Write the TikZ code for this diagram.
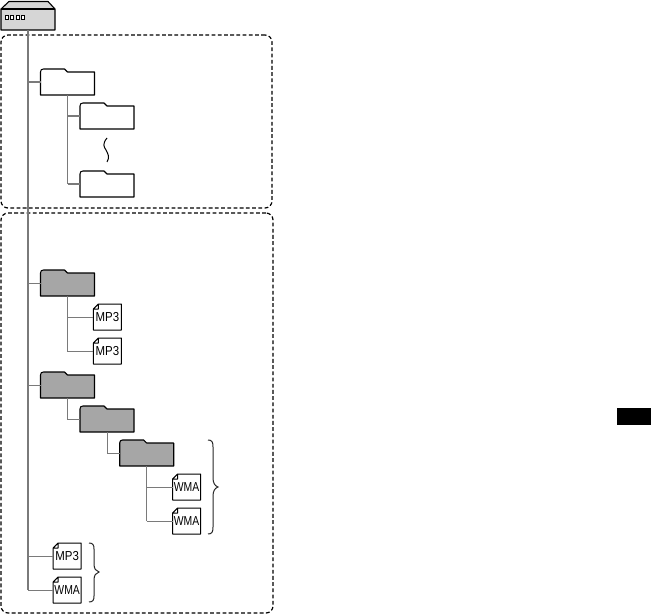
\documentclass[tikz,border=0pt]{standalone}
\usepackage{fontspec}
\usepackage{graphicx}
\setmainfont{Liberation Sans}
\definecolor{fgrey}{gray}{0.65}
\definecolor{devgrey}{gray}{0.84}
\definecolor{linegrey}{gray}{0.48}
\tikzset{
  x=1pt,y=-1pt,
  slot/.style={inner sep=0pt,outer sep=0pt,minimum width=#1,minimum height=26pt},
  outline/.style={draw=black,line width=1.1pt,line join=round},
  zone/.style={draw=black,line width=1.2pt,dash pattern=on 3.8pt off 2.4pt,rounded corners=7pt,inner sep=0pt,outer sep=0pt},
  trunk/.style={draw=linegrey,line width=1.8pt},
  twig/.style={draw=linegrey,line width=1pt},
  stem/.style={draw=linegrey,line width=1.5pt},
  bracer/.style={draw=black!85,line width=1pt},
}
\newcommand{\folderat}[4]{%
  \node[slot=54pt] (#1) at (#2,#3) {};
  \draw[outline,fill=#4,shift={(#2,#3)}]
    (-27,13) -- (-27,-10) .. controls (-27,-12) and (-26,-13) .. (-24,-13)
    -- (-3,-13) .. controls (-1.5,-13) and (-1.5,-10) .. (0,-10) -- (27,-10) -- (27,13) -- cycle;
}
\newcommand{\docat}[5]{%
  \node[slot=28pt] (#1) at (#2,#3) {};
  \draw[outline,line width=1pt,fill=white,shift={(#2,#3)}]
    (-14,13) -- (-14,-8) -- (-9,-13) -- (14,-13) -- (14,13) -- cycle
    (-14,-8) -- (-9,-8) -- (-9,-13);
  \node[inner sep=0pt] at (#2,#3+0.5) {\scalebox{#5}[1]{\fontsize{13}{13}\selectfont #4}};
}
\begin{document}
\begin{tikzpicture}
\useasboundingbox (0,0) rectangle (651,615);
% zones
\node[zone,minimum width=271pt,minimum height=173pt] (zoneA) at (136.5,121.5) {};
\node[zone,minimum width=272pt,minimum height=400pt] (zoneB) at (137,413) {};
% device
\node[inner sep=0pt,outer sep=0pt,minimum width=54pt,minimum height=21pt] (dev) at (28,19.5) {};
\draw[outline,fill=devgrey] (1,9) -- (9,1.5) -- (48,1.5) -- (55,9) -- (55,30) -- (1,30) -- cycle;
\draw[outline] (1,9) -- (55,9);
\foreach \px in {5,10.5,16,21}
  \draw[black,line width=0.9pt,fill=white] (\px,15.5) rectangle (\px+3,19);
% folders
\folderat{fa}{67.5}{82}{white}
\folderat{fb}{107}{116}{white}
\folderat{fc}{107}{184}{white}
\folderat{ga}{67.5}{283}{fgrey}
\folderat{gb}{67.5}{385}{fgrey}
\folderat{gc}{107}{419}{fgrey}
\folderat{gd}{146.7}{453}{fgrey}
% documents
\docat{ma}{107.4}{317}{MP3}{0.88}
\docat{mb}{107.4}{351}{MP3}{0.88}
\docat{wa}{186.6}{487}{WMA}{0.8}
\docat{wb}{186.6}{521}{WMA}{0.8}
\docat{mc}{67.2}{556}{MP3}{0.88}
\docat{wc}{67.2}{590}{WMA}{0.8}
% connectors
\draw[trunk] (dev.south) -- (dev.south |- wc.west);
\draw[stem] (dev.south |- fa.west) -- (fa.west);
\draw[twig] (dev.south |- ga.west) -- (ga.west);
\draw[twig] (dev.south |- gb.west) -- (gb.west);
\draw[twig] (dev.south |- mc.west) -- (mc.west);
\draw[twig] (dev.south |- wc.west) -- (wc.west);
\draw[twig] (fa.south) -- (fa.south |- fc.west) -- (fc.west);
\draw[stem] (fa.south |- fb.west) -- (fb.west);
\draw[stem] (fa.south |- fc.west) -- (fc.west);
\draw[twig] (ga.south) -- (ga.south |- mb.west) -- (mb.west);
\draw[twig] (ga.south |- ma.west) -- (ma.west);
\draw[twig] (gb.south) -- (gb.south |- gc.west) -- (gc.west);
\draw[twig] (gc.south) -- (gc.south |- gd.west) -- (gd.west);
\draw[stem] (gd.south) -- (gd.south |- wb.west);
\draw[twig] (gd.south |- wb.west) -- (wb.west);
\draw[twig] (gd.south |- wa.west) -- (wa.west);
% squiggle
\draw[black,line width=1pt] (107,138) .. controls (102,144) and (104,147) .. (106,150) .. controls (108,154) and (110,157) .. (107,162);
% braces
\draw[bracer] (208,440) .. controls (212,440) and (213,442) .. (213,447) -- (213,478) .. controls (213,483) and (215,486) .. (218,487) .. controls (215,488) and (213,491) .. (213,496) -- (213,527) .. controls (213,532) and (212,534) .. (208,534);
\draw[bracer] (89,543) .. controls (93,543) and (94,545) .. (94,549) -- (94,564) .. controls (94,569) and (96,571) .. (99,572) .. controls (96,573) and (94,575) .. (94,580) -- (94,596) .. controls (94,600) and (93,602) .. (89,602);
% black block
\fill[black] (617,408) rectangle (651,425);
\end{tikzpicture}
\end{document}
